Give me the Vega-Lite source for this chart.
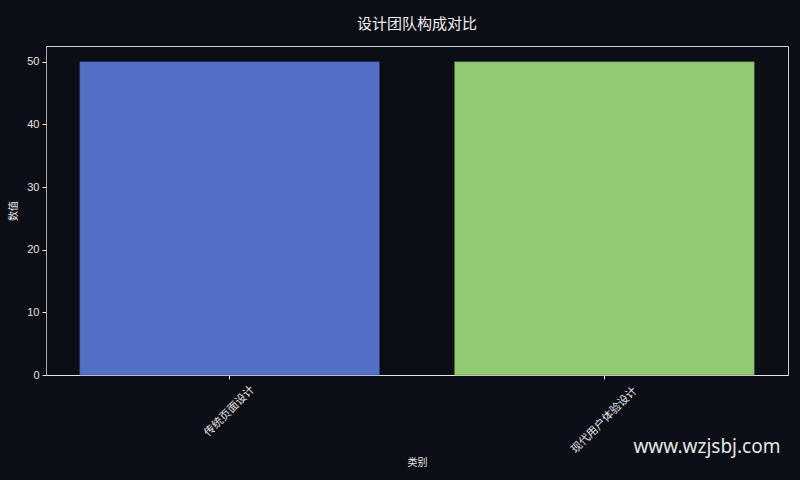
{
  "$schema": "https://vega.github.io/schema/vega-lite/v6.json",
  "background": "#0b0e15",
  "padding": {"left": 8, "top": 16, "right": 12, "bottom": 15},
  "title": {
    "text": "www.wzjsbj.com",
    "orient": "bottom",
    "anchor": "end",
    "font": "Noto Sans",
    "fontSize": 19,
    "fontWeight": "normal",
    "color": "#e6e6e6",
    "dy": -34,
    "dx": -8
  },
  "config": {
    "font": "Liberation Sans, Noto Sans CJK SC",
    "view": {"stroke": "#cfcfcf", "strokeWidth": 1}
  },
  "vconcat": [
    {
      "width": 742,
      "height": 329,
      "title": {
        "text": "设计团队构成对比",
        "font": "Noto Sans CJK SC",
        "fontSize": 15,
        "fontWeight": "normal",
        "color": "#f0f0f0",
        "offset": 14
      },
      "data": {
        "values": [
          {"类别": "传统页面设计", "数值": 50},
          {"类别": "现代用户体验设计", "数值": 50}
        ]
      },
      "mark": {"type": "bar", "strokeWidth": 1, "strokeOpacity": 0.5},
      "encoding": {
        "x": {
          "field": "类别",
          "type": "nominal",
          "sort": null,
          "scale": {"paddingInner": 0.2, "paddingOuter": 0.09},
          "axis": {
            "title": "类别",
            "labelAngle": -45,
            "labelAlign": "center",
            "labelBaseline": "middle",
            "labelFont": "Noto Sans CJK SC",
            "labelFontSize": 11,
            "labelColor": "#e6e6e6",
            "labelPadding": {
              "condition": {"test": "datum.value === '传统页面设计'", "value": 32},
              "value": 41
            },
            "titleFont": "Noto Sans CJK SC",
            "titleFontSize": 10,
            "titleFontWeight": "normal",
            "titleColor": "#e6e6e6",
            "domainColor": "#e6e6e6",
            "tickColor": "#e6e6e6",
            "tickSize": 4,
            "titlePadding": 3
          }
        },
        "y": {
          "field": "数值",
          "type": "quantitative",
          "scale": {"domain": [0, 52.5], "nice": false},
          "axis": {
            "title": "数值",
            "values": [0, 10, 20, 30, 40, 50],
            "grid": false,
            "labelFontSize": 11,
            "labelColor": "#e6e6e6",
            "titleFont": "Noto Sans CJK SC",
            "titleFontSize": 10,
            "titleFontWeight": "normal",
            "titleColor": "#e6e6e6",
            "domainColor": "#aaaaaa",
            "tickColor": "#e6e6e6",
            "tickSize": 4,
            "labelPadding": 3,
            "titlePadding": 8
          }
        },
        "color": {
          "field": "类别",
          "type": "nominal",
          "sort": null,
          "scale": {"range": ["#5470c6", "#91cc75"]},
          "legend": null
        },
        "stroke": {
          "field": "类别",
          "type": "nominal",
          "sort": null,
          "scale": {"range": ["#2f3f70", "#50703f"]},
          "legend": null
        }
      }
    }
  ]
}
